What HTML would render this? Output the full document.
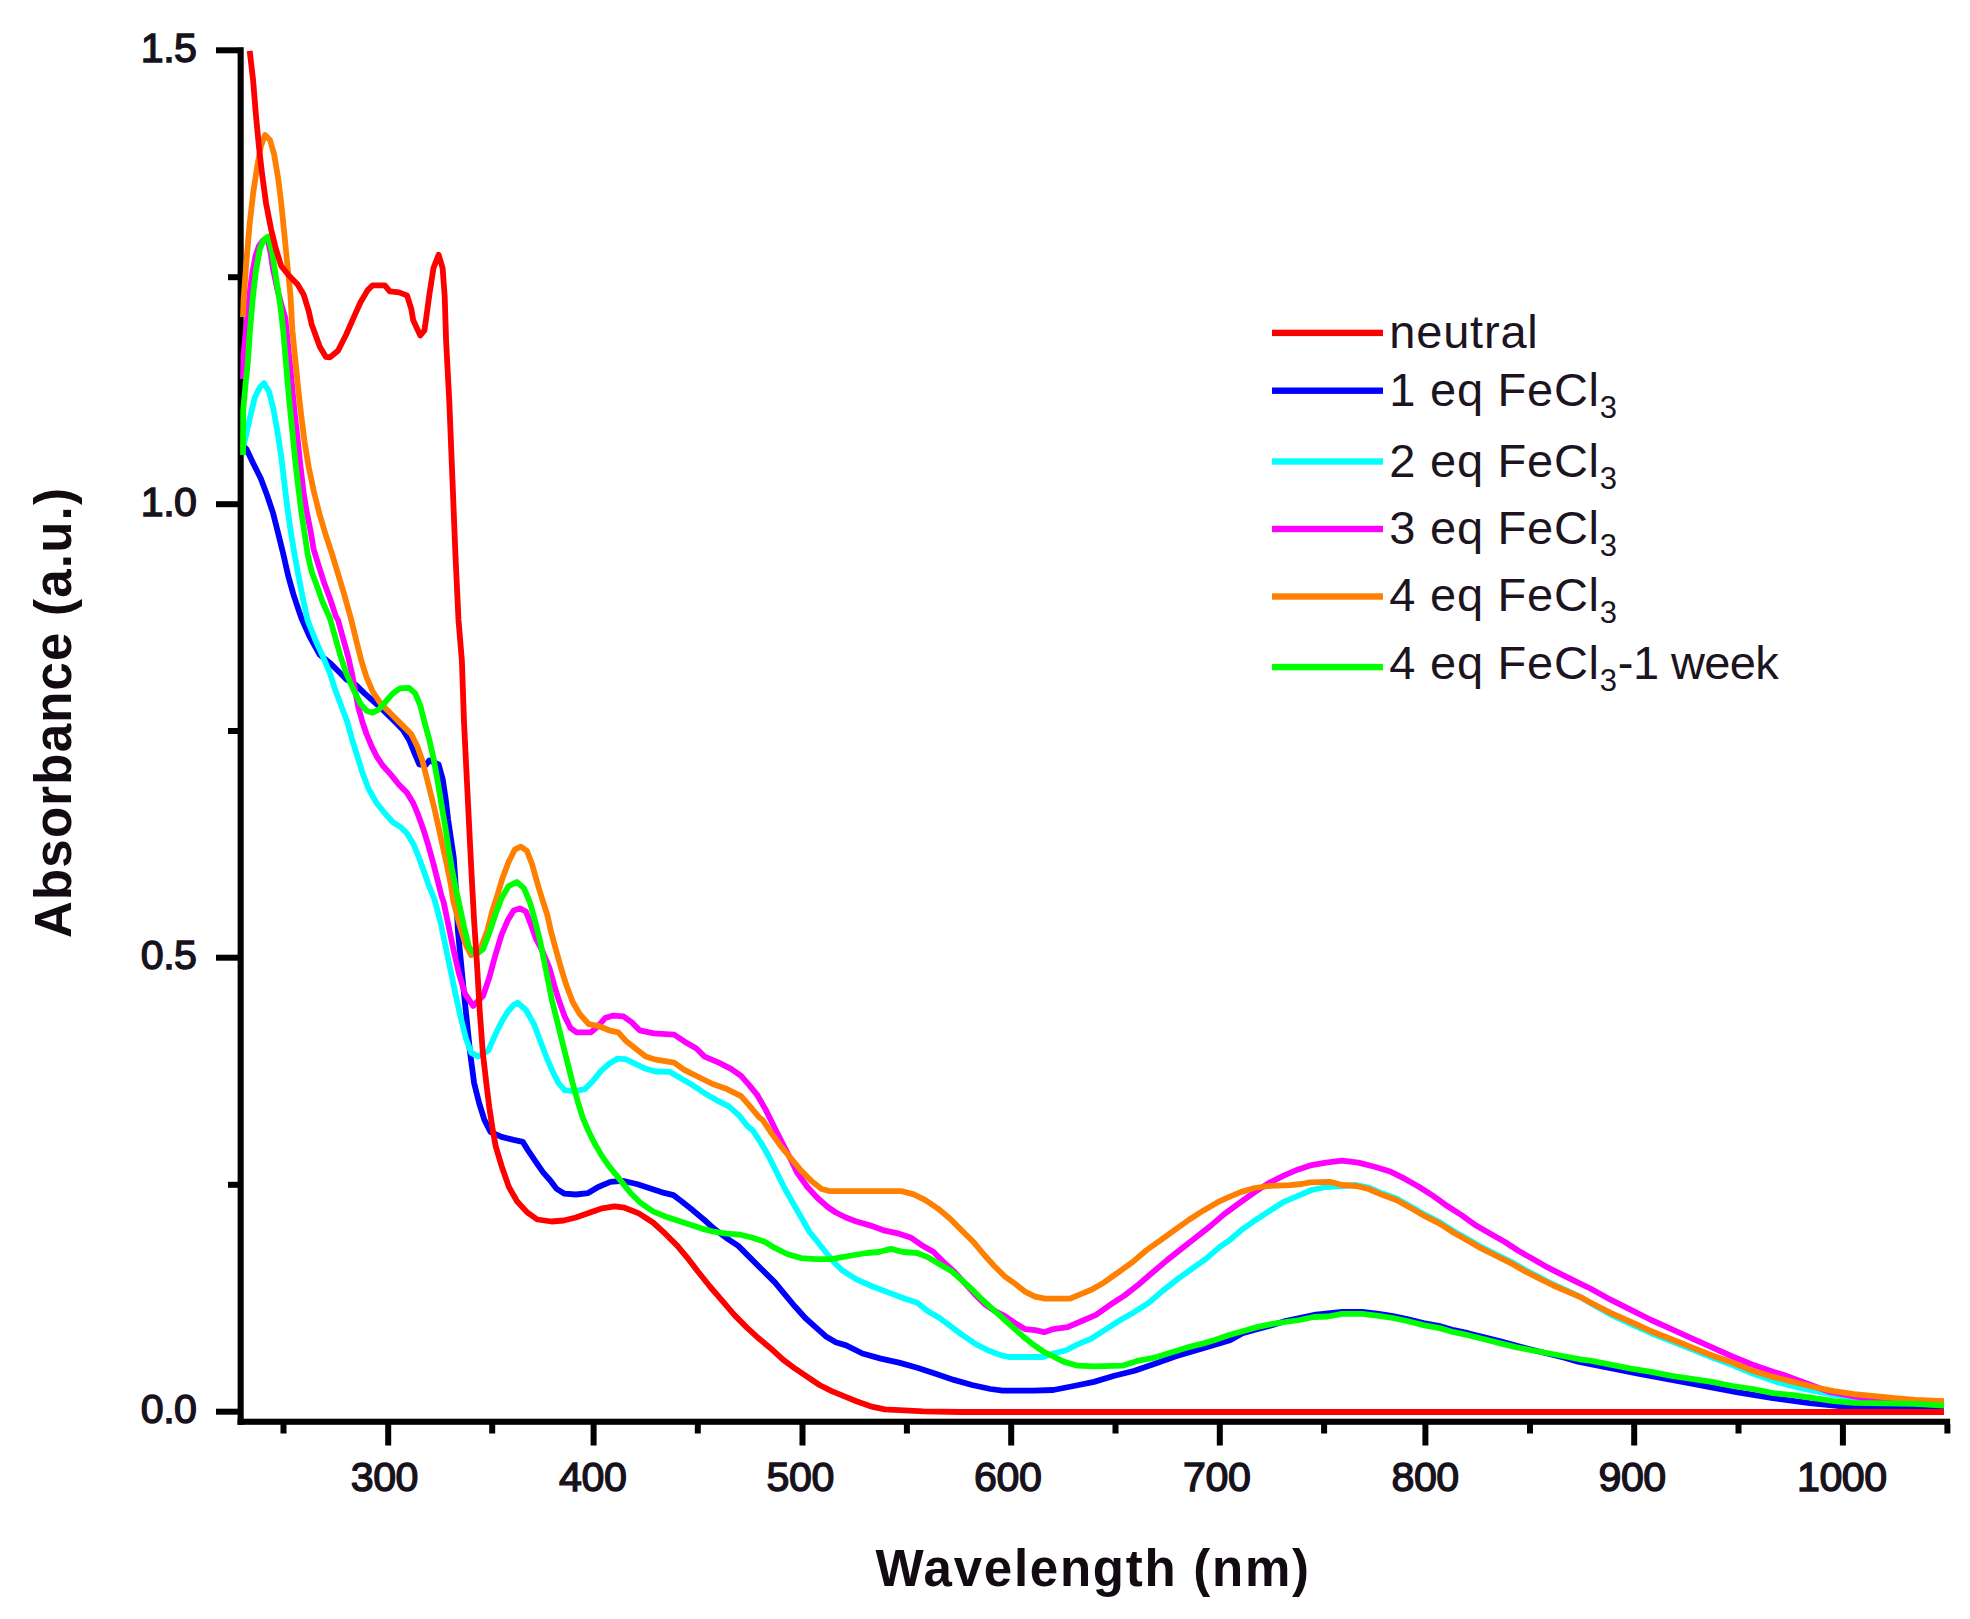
<!DOCTYPE html>
<html lang="en"><head><meta charset="utf-8"><title>Absorbance vs Wavelength</title>
<style>html,body{margin:0;padding:0;background:#fff}svg{display:block}text{font-family:"Liberation Sans",sans-serif;fill:#1c1420}.tk{font-weight:normal;font-size:41.2px;letter-spacing:-0.5px;fill:#17121c;stroke:#17121c;stroke-width:1.4px}.ax{font-weight:bold;font-size:51px;fill:#120c12}.lg{font-size:47px}.sb{font-size:31px}.c{fill:none;stroke-width:5.8;stroke-linejoin:round;stroke-linecap:butt}</style></head><body>
<svg width="1970" height="1619" viewBox="0 0 1970 1619">
<rect width="1970" height="1619" fill="#fff"/>
<g fill="#000">
<rect x="237.6" y="47.2" width="6.1" height="1377.6"/>
<rect x="237.6" y="1418.7" width="1712.5" height="6.1"/>
<rect x="216" y="47.3" width="22" height="6"/>
<rect x="216" y="501.2" width="22" height="6"/>
<rect x="216" y="954.7" width="22" height="6"/>
<rect x="216" y="1408.7" width="22" height="6"/>
<rect x="228" y="274.2" width="10" height="6"/>
<rect x="228" y="728.0" width="10" height="6"/>
<rect x="228" y="1181.8" width="10" height="6"/>
<rect x="385.2" y="1424" width="6" height="21.5"/>
<rect x="590.6" y="1424" width="6" height="21.5"/>
<rect x="799.5" y="1424" width="6" height="21.5"/>
<rect x="1008.2" y="1424" width="6" height="21.5"/>
<rect x="1216.8" y="1424" width="6" height="21.5"/>
<rect x="1422.4" y="1424" width="6" height="21.5"/>
<rect x="1631.2" y="1424" width="6" height="21.5"/>
<rect x="1839.9" y="1424" width="6" height="21.5"/>
<rect x="280.5" y="1424" width="6" height="9.5"/>
<rect x="489.2" y="1424" width="6" height="9.5"/>
<rect x="694.8" y="1424" width="6" height="9.5"/>
<rect x="903.9" y="1424" width="6" height="9.5"/>
<rect x="1112.5" y="1424" width="6" height="9.5"/>
<rect x="1321.1" y="1424" width="6" height="9.5"/>
<rect x="1527.0" y="1424" width="6" height="9.5"/>
<rect x="1735.5" y="1424" width="6" height="9.5"/>
<rect x="1944.4" y="1424" width="6" height="9.5"/>
</g>
<path class="c" stroke="#0000ff" d="M243.0 445.5 L246.7 449.5 L252.8 462.4 L260.9 478.7 L267.0 495.0 L273.1 513.2 L278.2 533.5 L283.2 553.8 L288.3 576.1 L293.4 594.4 L299.5 612.7 L301.5 618.3 L309.6 636.5 L319.8 654.8 L329.9 662.9 L338.1 671.0 L346.2 679.2 L356.3 685.3 L364.5 693.4 L372.6 700.5 L382.7 709.6 L392.9 719.8 L403.0 730.0 L409.1 740.0 L414.2 752.3 L419.3 764.5 L425.4 765.5 L429.4 760.4 L438.6 764.5 L442.6 778.7 L445.7 799.0 L448.1 819.3 L450.8 837.6 L453.8 857.9 L456.0 890.0 L457.9 930.8 L460.9 961.2 L464.0 993.7 L467.0 1022.1 L470.1 1052.6 L474.1 1083.0 L479.2 1103.4 L484.3 1119.6 L490.4 1131.8 L501.5 1136.9 L513.7 1139.9 L522.8 1141.9 L527.9 1150.1 L536.0 1162.2 L543.1 1172.4 L550.3 1180.5 L556.3 1188.6 L564.5 1193.7 L575.9 1194.5 L588.1 1193.1 L598.2 1187.0 L610.4 1181.9 L622.6 1180.9 L636.8 1184.0 L649.0 1188.0 L661.2 1192.1 L673.4 1195.1 L681.5 1201.2 L691.6 1209.3 L703.8 1219.5 L714.0 1228.6 L726.1 1237.8 L738.3 1245.9 L750.5 1258.1 L762.7 1270.3 L774.9 1282.4 L785.0 1294.6 L795.2 1306.8 L805.3 1318.0 L815.5 1327.1 L825.6 1336.2 L835.8 1342.3 L846.2 1345.4 L862.5 1353.5 L880.8 1358.6 L899.0 1362.6 L917.3 1367.7 L935.6 1373.8 L953.9 1379.9 L972.1 1385.0 L990.4 1389.0 L1002.6 1390.7 L1033.0 1390.7 L1053.3 1390.0 L1073.7 1386.0 L1094.0 1381.9 L1114.3 1375.8 L1134.6 1370.8 L1154.9 1363.7 L1175.2 1356.5 L1195.5 1350.5 L1215.8 1344.4 L1230.0 1340.3 L1242.6 1333.2 L1256.9 1329.1 L1271.1 1325.5 L1285.3 1321.0 L1299.5 1318.0 L1313.7 1315.0 L1327.9 1313.5 L1342.1 1311.9 L1362.4 1311.9 L1378.7 1313.9 L1392.9 1316.0 L1407.1 1319.0 L1423.4 1323.1 L1439.6 1326.1 L1453.8 1330.2 L1468.0 1333.2 L1484.3 1337.3 L1500.5 1341.4 L1516.8 1345.9 L1533.0 1350.0 L1549.2 1354.0 L1565.5 1358.0 L1578.0 1361.6 L1637.0 1373.4 L1687.8 1382.9 L1736.5 1392.1 L1773.0 1398.2 L1809.6 1403.2 L1842.1 1406.3 L1911.1 1407.3 L1944.0 1407.5"/>
<path class="c" stroke="#00ffff" d="M243.0 447.0 L245.0 440.0 L249.9 417.8 L254.8 397.5 L259.9 387.3 L264.0 383.2 L269.0 391.4 L273.1 407.6 L277.2 430.0 L281.2 456.3 L284.3 482.7 L287.3 507.1 L290.4 529.4 L294.4 553.8 L298.5 576.1 L302.5 596.4 L307.6 620.3 L315.7 640.6 L323.9 658.9 L329.9 673.1 L335.0 689.3 L341.1 705.6 L347.2 721.8 L352.3 740.1 L357.4 756.3 L362.4 772.6 L368.5 788.8 L376.6 803.0 L384.8 813.2 L392.9 822.3 L401.0 827.4 L407.1 833.5 L413.2 843.7 L418.3 855.8 L423.4 870.0 L428.4 884.3 L434.5 899.5 L440.6 922.6 L445.7 947.0 L450.8 971.4 L455.8 995.7 L460.9 1018.1 L466.0 1038.4 L471.1 1052.6 L478.2 1056.6 L488.3 1050.6 L495.4 1034.3 L501.5 1022.1 L507.6 1012.0 L513.7 1004.9 L517.8 1002.8 L525.9 1010.0 L534.0 1024.2 L540.1 1040.4 L546.2 1056.6 L552.3 1070.9 L558.4 1083.0 L564.5 1090.2 L574.6 1091.2 L584.8 1089.1 L592.9 1081.0 L601.0 1070.9 L609.1 1063.8 L617.3 1058.7 L625.4 1059.1 L635.5 1063.8 L645.7 1068.8 L655.8 1071.5 L670.1 1071.9 L680.2 1078.0 L692.4 1085.1 L704.6 1093.2 L716.8 1100.3 L728.9 1106.4 L739.1 1115.5 L747.2 1125.7 L752.5 1130.2 L760.7 1142.3 L768.8 1156.5 L776.9 1172.8 L785.0 1189.0 L793.1 1203.2 L801.3 1217.5 L809.4 1231.7 L817.5 1241.8 L825.6 1252.0 L835.8 1264.2 L842.2 1270.3 L856.4 1279.4 L872.6 1286.5 L888.9 1292.6 L905.1 1298.7 L917.3 1302.7 L927.5 1310.9 L939.6 1318.0 L951.8 1327.1 L964.0 1336.2 L976.2 1344.4 L988.4 1350.5 L1000.6 1355.1 L1008.7 1357.0 L1043.2 1357.0 L1053.3 1353.5 L1065.5 1350.5 L1077.7 1344.4 L1091.9 1338.3 L1106.1 1329.1 L1120.4 1320.0 L1134.6 1311.9 L1148.8 1302.7 L1163.0 1290.6 L1177.2 1279.4 L1191.4 1269.2 L1205.6 1259.1 L1219.8 1246.9 L1230.0 1239.8 L1240.6 1230.7 L1254.8 1220.5 L1269.0 1211.4 L1283.2 1202.2 L1297.5 1196.1 L1311.7 1190.0 L1325.9 1187.0 L1342.1 1186.0 L1356.3 1185.0 L1368.5 1187.5 L1382.7 1193.6 L1396.9 1198.7 L1411.2 1206.8 L1425.4 1214.9 L1439.6 1222.1 L1453.8 1231.2 L1468.0 1239.3 L1482.2 1247.4 L1496.4 1254.5 L1510.7 1261.6 L1524.9 1269.8 L1539.1 1277.0 L1553.3 1284.5 L1567.5 1291.0 L1581.7 1297.7 L1592.0 1304.0 L1610.6 1314.5 L1630.9 1324.0 L1651.2 1333.2 L1671.5 1341.3 L1691.8 1349.4 L1712.1 1357.5 L1732.4 1365.0 L1752.7 1373.5 L1777.0 1382.0 L1800.0 1388.0 L1834.0 1395.0 L1854.0 1398.5 L1900.0 1402.0 L1944.0 1403.5"/>
<path class="c" stroke="#ff00ff" d="M243.0 379.0 L243.5 355.0 L245.5 335.0 L247.5 315.0 L250.0 290.0 L252.5 272.0 L255.5 256.0 L259.0 246.0 L263.0 240.5 L267.5 239.5 L270.5 252.0 L273.0 269.0 L277.5 290.0 L281.5 305.0 L285.3 318.0 L288.3 347.7 L291.4 379.2 L294.4 410.7 L297.5 438.0 L300.5 466.5 L303.6 492.9 L306.6 511.2 L310.7 531.5 L313.7 549.7 L318.8 566.0 L323.9 582.2 L330.0 598.5 L336.0 616.8 L338.1 620.3 L343.1 638.6 L348.2 656.9 L352.3 675.1 L355.3 691.4 L358.4 707.6 L362.4 721.8 L366.5 734.0 L371.6 746.2 L376.6 756.3 L382.7 765.5 L390.9 774.6 L399.0 784.8 L407.1 792.9 L413.2 803.0 L418.3 815.2 L423.4 829.4 L428.4 845.7 L433.5 864.0 L437.6 880.2 L441.6 896.4 L443.7 902.3 L448.7 926.7 L453.8 951.1 L458.9 973.4 L465.0 993.7 L473.1 1005.9 L483.2 995.7 L489.3 977.5 L495.4 955.1 L501.5 934.8 L507.6 920.6 L513.7 910.5 L519.8 908.4 L525.9 911.5 L531.0 924.7 L536.0 938.9 L542.0 950.0 L549.2 967.3 L554.3 985.6 L559.4 1001.8 L564.5 1016.0 L570.6 1028.2 L576.6 1032.3 L590.9 1032.3 L598.0 1026.2 L605.1 1018.1 L613.2 1015.6 L623.4 1016.4 L631.5 1022.1 L639.6 1030.3 L653.8 1033.3 L674.1 1034.7 L684.3 1041.4 L696.4 1048.5 L704.6 1056.6 L718.8 1062.7 L731.0 1068.8 L741.1 1075.9 L749.2 1085.1 L757.4 1095.2 L765.5 1109.4 L773.6 1125.7 L781.7 1141.9 L789.1 1156.0 L797.2 1172.8 L807.4 1187.0 L817.5 1198.0 L827.7 1207.0 L835.8 1212.5 L845.9 1217.5 L856.4 1221.5 L870.6 1225.6 L884.8 1230.7 L899.0 1233.7 L911.2 1237.8 L921.4 1244.9 L933.6 1252.0 L943.7 1262.1 L953.9 1271.3 L964.0 1282.4 L974.2 1293.6 L984.3 1303.8 L994.5 1310.9 L1004.6 1315.9 L1014.8 1323.0 L1024.9 1329.1 L1035.1 1330.2 L1044.2 1332.2 L1053.3 1329.1 L1067.6 1327.1 L1081.8 1321.0 L1096.0 1314.9 L1110.2 1304.8 L1124.4 1295.6 L1138.6 1284.5 L1152.8 1272.3 L1167.1 1260.1 L1181.3 1248.9 L1195.5 1237.8 L1209.7 1226.6 L1223.9 1214.4 L1240.6 1202.2 L1254.8 1192.1 L1269.0 1182.9 L1283.2 1175.8 L1297.5 1169.7 L1311.7 1165.1 L1325.9 1162.6 L1342.1 1160.6 L1358.4 1162.6 L1374.6 1166.7 L1390.9 1171.8 L1405.1 1178.9 L1419.3 1187.0 L1433.5 1196.1 L1447.7 1206.3 L1461.9 1215.4 L1476.1 1225.6 L1490.4 1233.7 L1504.6 1241.8 L1518.8 1251.0 L1533.0 1259.1 L1547.2 1267.2 L1561.4 1274.3 L1575.6 1281.4 L1590.3 1288.5 L1610.6 1299.7 L1630.9 1309.8 L1651.2 1320.0 L1671.5 1329.1 L1691.8 1338.3 L1712.1 1347.4 L1732.4 1356.5 L1752.7 1364.7 L1773.0 1371.8 L1783.2 1374.8 L1800.0 1381.0 L1830.0 1392.0 L1862.0 1398.0 L1900.0 1401.0 L1944.0 1403.0"/>
<path class="c" stroke="#ff8000" d="M243.0 317.0 L243.6 300.0 L246.2 264.0 L249.7 223.4 L253.2 192.9 L256.9 168.5 L260.9 146.2 L265.0 135.0 L270.0 140.0 L274.1 154.3 L278.2 178.7 L281.2 203.0 L284.3 233.5 L287.3 264.0 L290.4 294.4 L292.4 330.5 L295.4 360.9 L298.5 391.4 L301.5 417.8 L304.6 442.1 L308.6 466.5 L313.7 490.9 L319.8 515.2 L325.9 535.5 L332.0 553.8 L338.1 574.1 L344.2 594.4 L351.3 620.0 L356.3 640.6 L361.4 660.9 L366.5 677.2 L372.6 691.4 L380.7 703.6 L390.9 713.7 L401.0 723.9 L411.2 734.0 L417.3 746.2 L422.3 760.4 L426.4 776.6 L430.5 792.9 L434.5 809.1 L438.6 827.4 L442.6 845.7 L446.7 864.0 L450.8 884.3 L453.2 900.3 L458.9 922.6 L465.0 942.9 L471.1 955.1 L481.2 947.0 L487.3 930.8 L492.4 910.5 L496.4 898.5 L502.5 878.2 L508.6 862.0 L514.7 849.7 L520.8 846.7 L526.9 850.8 L532.0 864.0 L537.1 882.2 L542.3 899.5 L547.2 914.5 L551.3 932.8 L556.3 951.1 L561.4 969.3 L566.5 985.6 L572.6 1001.8 L579.7 1014.0 L588.8 1024.2 L599.0 1026.2 L609.1 1030.3 L618.3 1032.3 L625.4 1040.4 L635.5 1048.5 L645.7 1056.6 L655.8 1059.7 L674.1 1062.7 L684.3 1069.8 L698.5 1077.0 L712.7 1084.0 L726.9 1089.1 L741.1 1096.2 L749.2 1105.4 L759.4 1117.6 L762.7 1120.0 L770.8 1132.2 L781.0 1146.4 L791.1 1158.6 L801.3 1170.8 L811.4 1180.9 L821.6 1189.0 L829.7 1191.1 L901.1 1191.1 L913.2 1194.1 L925.4 1200.2 L937.6 1208.3 L949.8 1218.5 L962.0 1230.7 L974.2 1242.8 L984.3 1255.0 L994.5 1266.2 L1004.6 1276.3 L1014.8 1283.5 L1024.9 1291.6 L1035.1 1296.6 L1045.2 1298.7 L1069.6 1298.7 L1079.7 1294.6 L1091.9 1289.5 L1104.1 1282.4 L1118.3 1272.3 L1132.5 1262.1 L1146.7 1250.0 L1161.0 1239.8 L1175.2 1229.6 L1189.4 1219.5 L1203.6 1210.4 L1217.8 1202.2 L1226.4 1198.2 L1240.6 1192.1 L1254.8 1188.0 L1269.0 1186.0 L1290.0 1185.2 L1301.5 1184.0 L1310.0 1182.3 L1329.9 1181.9 L1342.1 1185.0 L1356.3 1186.0 L1368.5 1189.0 L1382.7 1195.1 L1396.9 1200.2 L1411.2 1208.3 L1425.4 1216.4 L1439.6 1223.6 L1453.8 1232.7 L1468.0 1240.8 L1482.2 1248.9 L1496.4 1256.0 L1510.7 1263.1 L1524.9 1271.3 L1539.1 1278.4 L1553.3 1285.5 L1567.5 1291.6 L1581.7 1297.7 L1590.3 1302.5 L1610.6 1312.9 L1630.9 1322.0 L1651.2 1331.2 L1671.5 1339.3 L1691.8 1347.4 L1712.1 1355.5 L1732.4 1362.6 L1752.7 1370.8 L1773.0 1376.9 L1793.3 1381.9 L1813.6 1387.0 L1833.9 1391.1 L1854.2 1394.1 L1874.6 1396.1 L1894.9 1398.2 L1915.2 1399.8 L1944.0 1401.2"/>
<path class="c" stroke="#00ff00" d="M243.0 455.0 L243.2 410.0 L245.5 385.0 L247.7 364.0 L250.0 330.0 L252.8 298.0 L256.0 270.0 L260.0 248.5 L264.0 239.5 L268.0 236.5 L272.1 251.8 L276.1 278.2 L280.2 304.6 L283.2 330.5 L286.3 367.0 L289.3 401.5 L292.4 432.0 L295.4 462.4 L298.5 488.8 L301.5 513.2 L304.6 533.5 L307.6 553.8 L311.7 572.0 L317.8 588.3 L322.8 602.5 L329.9 618.3 L335.0 636.5 L340.1 654.8 L346.2 673.1 L353.3 689.3 L360.4 703.6 L366.5 710.7 L372.6 712.7 L378.7 709.6 L385.8 701.5 L392.9 693.4 L400.0 688.3 L409.1 687.9 L415.2 693.4 L420.3 705.6 L424.4 721.8 L429.4 740.1 L433.5 758.4 L436.5 774.6 L439.6 792.9 L442.6 811.2 L445.7 829.4 L448.7 849.7 L451.8 868.0 L455.8 888.3 L458.9 902.3 L464.0 926.7 L469.0 947.0 L475.1 955.1 L483.2 949.0 L489.3 932.8 L495.4 914.5 L501.5 898.3 L508.6 886.1 L516.8 882.0 L523.9 888.1 L529.9 902.3 L535.0 920.6 L540.1 940.9 L544.2 961.2 L548.2 981.5 L552.3 1001.8 L557.4 1022.1 L562.4 1042.4 L567.5 1062.7 L572.6 1083.0 L577.7 1101.3 L582.7 1117.6 L588.8 1131.8 L594.9 1144.0 L602.0 1156.1 L609.1 1166.3 L617.3 1176.4 L625.4 1186.6 L631.0 1193.5 L640.9 1203.2 L653.0 1211.4 L665.2 1216.4 L677.4 1220.5 L689.6 1224.6 L701.8 1228.6 L714.0 1231.7 L726.1 1233.7 L740.4 1234.7 L752.5 1237.8 L764.7 1241.8 L774.9 1247.9 L787.1 1254.0 L801.3 1258.1 L815.5 1259.1 L831.7 1259.1 L842.2 1257.1 L854.4 1255.0 L866.5 1253.0 L878.7 1252.0 L890.9 1248.9 L903.1 1252.0 L917.3 1253.0 L927.5 1257.1 L939.6 1264.2 L951.8 1271.3 L962.0 1280.4 L972.1 1289.5 L982.3 1299.7 L992.4 1308.8 L1002.6 1318.0 L1012.7 1327.1 L1022.9 1336.2 L1033.0 1344.4 L1043.2 1351.5 L1053.3 1356.5 L1063.5 1361.6 L1077.7 1365.7 L1094.0 1366.3 L1122.4 1365.7 L1138.6 1360.6 L1154.9 1357.6 L1171.1 1352.5 L1187.4 1347.4 L1203.6 1343.4 L1214.2 1340.3 L1228.4 1335.2 L1242.6 1331.2 L1256.9 1327.1 L1271.1 1324.1 L1285.3 1322.0 L1299.5 1320.0 L1313.7 1317.0 L1327.9 1316.5 L1342.1 1313.9 L1362.4 1313.9 L1378.7 1315.9 L1392.9 1318.0 L1407.1 1321.0 L1423.4 1325.1 L1439.6 1328.1 L1453.8 1332.2 L1468.0 1335.2 L1484.3 1339.3 L1500.5 1343.4 L1516.8 1347.4 L1533.0 1350.5 L1549.2 1353.5 L1565.5 1356.5 L1581.7 1359.6 L1590.3 1360.6 L1610.6 1364.7 L1630.9 1368.7 L1651.2 1371.8 L1671.5 1375.8 L1691.8 1378.9 L1712.1 1381.9 L1732.4 1386.0 L1752.7 1389.0 L1773.0 1393.1 L1793.3 1395.1 L1813.6 1398.2 L1833.9 1401.2 L1854.2 1402.8 L1915.2 1403.9 L1944.0 1405.7"/>
<path class="c" stroke="#ff0000" d="M249.7 50.8 L253.2 81.2 L255.8 113.7 L258.9 146.2 L261.9 172.6 L266.0 203.0 L271.1 229.4 L276.1 249.7 L281.2 266.0 L289.3 276.0 L297.5 284.3 L303.6 294.4 L308.6 310.7 L311.7 324.4 L319.8 346.7 L325.9 356.9 L330.0 357.3 L338.0 350.8 L346.2 334.5 L354.3 316.2 L360.4 302.5 L367.5 290.4 L372.6 285.3 L384.8 285.3 L389.8 291.4 L399.0 292.4 L407.0 295.4 L411.2 308.6 L413.2 320.3 L420.3 335.5 L424.4 330.5 L426.4 316.7 L429.4 294.4 L433.5 268.0 L438.6 254.8 L442.6 268.0 L444.7 296.4 L446.1 340.6 L449.3 401.5 L452.4 478.7 L455.4 553.8 L458.5 620.0 L461.9 660.9 L464.0 721.8 L467.0 782.7 L470.0 843.6 L472.1 884.3 L474.1 920.6 L476.8 961.2 L479.8 1012.0 L482.8 1052.6 L486.3 1083.0 L489.3 1107.4 L492.4 1127.7 L495.7 1146.4 L501.8 1166.7 L508.9 1187.0 L517.0 1201.2 L527.2 1212.4 L537.3 1219.5 L551.5 1221.5 L563.7 1220.5 L575.9 1217.5 L590.1 1212.4 L602.3 1208.3 L614.5 1206.3 L624.6 1207.7 L638.8 1213.4 L653.0 1222.5 L665.2 1233.7 L677.4 1245.9 L687.6 1258.1 L697.7 1271.3 L709.9 1286.5 L722.1 1300.7 L734.3 1314.9 L746.4 1327.1 L758.6 1338.3 L770.8 1348.4 L783.0 1359.6 L795.2 1368.7 L807.4 1376.9 L819.5 1385.0 L831.7 1391.1 L843.9 1396.1 L856.4 1401.2 L870.6 1406.3 L884.8 1409.3 L923.4 1411.4 L960.0 1412.0 L1944.0 1412.0"/>
<text class="tk" x="196.5" y="62.0" text-anchor="end">1.5</text>
<text class="tk" x="196.5" y="515.9" text-anchor="end">1.0</text>
<text class="tk" x="196.5" y="969.4" text-anchor="end">0.5</text>
<text class="tk" x="196.5" y="1423.4" text-anchor="end">0.0</text>
<text class="tk" x="384.4" y="1491" text-anchor="middle">300</text>
<text class="tk" x="592.7" y="1491" text-anchor="middle">400</text>
<text class="tk" x="800.2" y="1491" text-anchor="middle">500</text>
<text class="tk" x="1007.7" y="1491" text-anchor="middle">600</text>
<text class="tk" x="1216.7" y="1491" text-anchor="middle">700</text>
<text class="tk" x="1425.1" y="1491" text-anchor="middle">800</text>
<text class="tk" x="1632.1" y="1491" text-anchor="middle">900</text>
<text class="tk" x="1841.8" y="1491" text-anchor="middle">1000</text>
<text class="ax" x="1093.2" y="1586" text-anchor="middle" letter-spacing="1.75">Wavelength (nm)</text>
<text class="ax" transform="translate(71.2 712.5) rotate(-90)" text-anchor="middle" letter-spacing="1.2">Absorbance (a.u.)</text>
<rect x="1272" y="329.7" width="111" height="6.4" fill="#ff0000"/>
<text class="lg" x="1389.3" y="347.6" letter-spacing="0.8">neutral</text>
<rect x="1272" y="387.5" width="111" height="6.4" fill="#0000ff"/>
<text class="lg" x="1389.3" y="405.5" letter-spacing="0.75">1 eq FeCl<tspan class="sb" dy="12">3</tspan></text>
<rect x="1272" y="458.3" width="111" height="6.4" fill="#00ffff"/>
<text class="lg" x="1389.3" y="476.5" letter-spacing="0.75">2 eq FeCl<tspan class="sb" dy="12">3</tspan></text>
<rect x="1272" y="525.8" width="111" height="6.4" fill="#ff00ff"/>
<text class="lg" x="1389.3" y="543.5" letter-spacing="0.75">3 eq FeCl<tspan class="sb" dy="12">3</tspan></text>
<rect x="1272" y="593.3" width="111" height="6.4" fill="#ff8000"/>
<text class="lg" x="1389.3" y="611.4" letter-spacing="0.75">4 eq FeCl<tspan class="sb" dy="12">3</tspan></text>
<rect x="1272" y="663.9" width="111" height="6.4" fill="#00ff00"/>
<text class="lg" x="1389.3" y="679.0" letter-spacing="0.75">4 eq FeCl<tspan class="sb" dy="12">3</tspan><tspan dy="-12" letter-spacing="-0.6">-1 week</tspan></text>
</svg></body></html>
